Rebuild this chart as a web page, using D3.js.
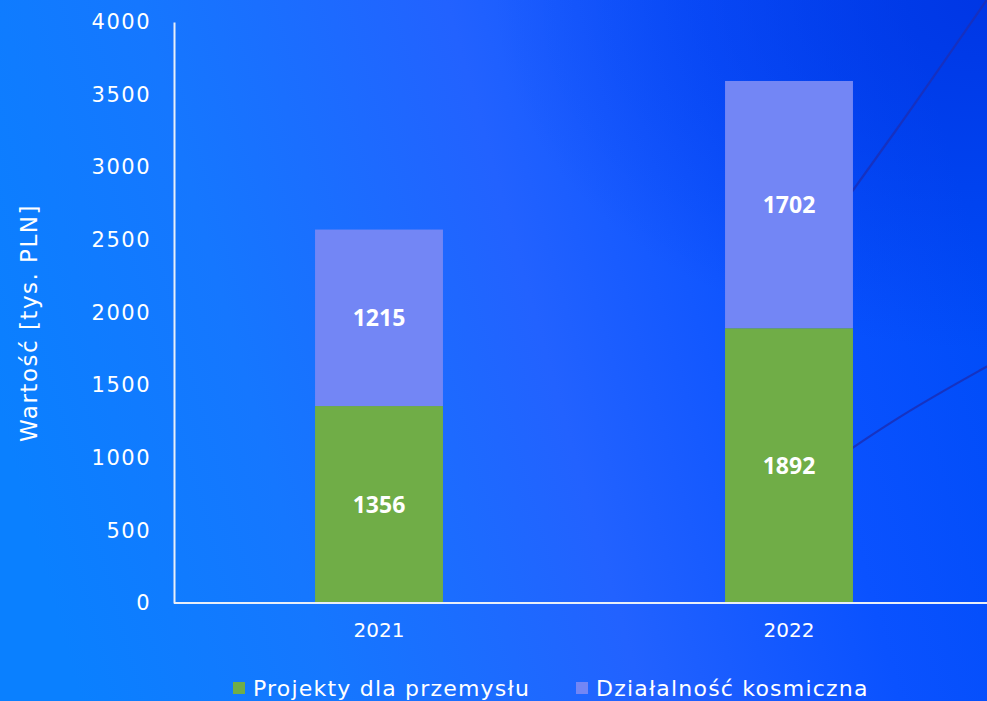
<!DOCTYPE html>
<html>
<head>
<meta charset="utf-8">
<script src="https://cdn.jsdelivr.net/npm/d3@7"></script>
<style>
  html, body { margin: 0; padding: 0; background: #1a6cff; }
  svg { display: block; }
  text { font-family: "DejaVu Sans", "Open Sans", sans-serif; }
</style>
</head>
<body>
<svg id="chart" width="987" height="701"></svg>
<script>
// Values in thousands of PLN
const years = ["2021", "2022"];
const industryProjects = [1356, 1892];
const spaceActivity = [1215, 1702];
const seriesNames = ["Projekty dla przemysłu", "Działalność kosmiczna"];
const seriesColors = ["#70ad47", "#7386f5"];
const yTicks = [0, 500, 1000, 1500, 2000, 2500, 3000, 3500, 4000];
const yTitle = "Wartość [tys. PLN]";

const W = 987, H = 701;
const svg = d3.select("#chart");

// Background: blue gradient
const defs = svg.append("defs");
const lg = defs.append("linearGradient").attr("id", "bg").attr("x1", "0").attr("y1", "0.6").attr("x2", "1").attr("y2", "0.4");
[["0%", "#0a80ff"], ["25%", "#1577ff"], ["55%", "#2262ff"], ["80%", "#0a52ff"], ["100%", "#004cf8"]]
  .forEach(([o, c]) => lg.append("stop").attr("offset", o).attr("stop-color", c));
const rg = defs.append("radialGradient").attr("id", "shade")
  .attr("cx", "1").attr("cy", "0").attr("r", "0.5");
rg.append("stop").attr("offset", "0%").attr("stop-color", "#0028d8").attr("stop-opacity", 0.6);
rg.append("stop").attr("offset", "100%").attr("stop-color", "#0028d8").attr("stop-opacity", 0);

svg.append("rect").attr("width", W).attr("height", H).attr("fill", "url(#bg)");
svg.append("rect").attr("width", W).attr("height", H).attr("fill", "url(#shade)");

// Decorative curves in the background (they pass behind the 2022 bar)
const deco = svg.append("g").attr("fill", "none").attr("stroke", "#1a2fb8").attr("stroke-width", 2.2).attr("opacity", 0.85);
deco.append("path").attr("d", d3.line().curve(d3.curveBasis)([[770, 310], [820, 235], [890, 140], [995, -12]]));
deco.append("path").attr("d", d3.line().curve(d3.curveBasis)([[770, 505], [820, 470], [900, 415], [995, 362]]));

const y = d3.scaleLinear().domain([0, 4000]).range([603, 22]);
const x = d3.scaleBand().domain(years).range([174, 994]).paddingInner(0.688).paddingOuter(0.344);

// Stacked data
const rows = years.map((yr, i) => ({ year: yr, a: industryProjects[i], b: spaceActivity[i] }));
const stack = d3.stack().keys(["a", "b"])(rows);

const gBars = svg.append("g");
stack.forEach((layer, li) => {
  gBars.selectAll(null).data(layer).join("rect")
    .attr("x", d => x(d.data.year))
    .attr("y", d => y(d[1]))
    .attr("width", x.bandwidth())
    .attr("height", d => y(d[0]) - y(d[1]))
    .attr("fill", seriesColors[li]);
  gBars.selectAll(null).data(layer).join("text")
    .attr("x", d => x(d.data.year) + x.bandwidth() / 2)
    .attr("y", d => y((d[0] + d[1]) / 2))
    .attr("dy", "0.36em")
    .attr("text-anchor", "middle")
    .attr("fill", "#ffffff")
    .attr("font-weight", 700)
    .attr("font-size", 23)
    .style("font-family", '"Open Sans", sans-serif')
    .text(d => d[1] - d[0]);
});

// Y axis
const yAxis = svg.append("g").attr("transform", `translate(174,0)`)
  .call(d3.axisLeft(y).tickValues(yTicks).tickSize(0).tickPadding(23).tickFormat(d3.format("d")));
yAxis.select(".domain").attr("stroke", "#e8eef8").attr("stroke-width", 2);
yAxis.selectAll("text").attr("fill", "#ffffff").attr("font-size", 21)
  .attr("letter-spacing", 1.5)
  .style("font-family", '"DejaVu Sans", sans-serif');

// X axis
const xAxis = svg.append("g").attr("transform", `translate(0,603)`)
  .call(d3.axisBottom(x).tickSize(0).tickPadding(20));
xAxis.select(".domain").attr("d", "M174,0H990").attr("stroke", "#e8eef8").attr("stroke-width", 2);
xAxis.selectAll("text").attr("fill", "#ffffff").attr("font-size", 20)
  .style("font-family", '"DejaVu Sans", sans-serif');

// Y axis title
svg.append("text")
  .attr("transform", "translate(37,323) rotate(-90)")
  .attr("text-anchor", "middle")
  .attr("fill", "#ffffff")
  .attr("font-size", 23)
  .attr("letter-spacing", 1.5)
  .text(yTitle);

// Legend
const legendX = [233, 576];
const leg = svg.append("g");
seriesNames.forEach((name, i) => {
  leg.append("rect").attr("x", legendX[i]).attr("y", 682).attr("width", 12).attr("height", 12).attr("fill", seriesColors[i]);
  leg.append("text").attr("x", legendX[i] + 20).attr("y", 688).attr("dy", "0.36em")
    .attr("fill", "#ffffff").attr("font-size", 22).attr("letter-spacing", 1.2).text(name);
});
</script>
</body>
</html>
